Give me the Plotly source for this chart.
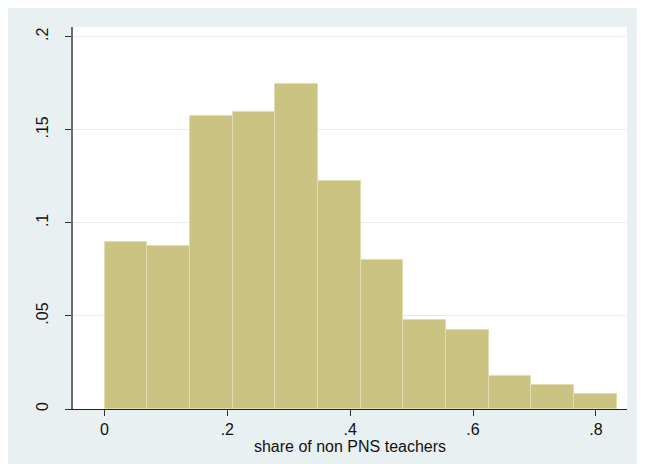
import plotly.graph_objects as go

# Histogram data (fraction per bin)
bin_start = 0.0
bin_width = 0.0695
fractions = [0.0899, 0.0876, 0.1573, 0.1598, 0.1748, 0.1225,
             0.0801, 0.0480, 0.0426, 0.0176, 0.0128, 0.0078]

x_tickvals = [0, 0.2, 0.4, 0.6, 0.8]
x_ticktext = ["0", ".2", ".4", ".6", ".8"]
y_tickvals = [0, 0.05, 0.1, 0.15, 0.2]
y_ticktext = ["0", ".05", ".1", ".15", ".2"]
x_title = "share of non PNS teachers"

centers = [bin_start + bin_width * (i + 0.5) for i in range(len(fractions))]

BG = "#e9f0f2"
BAR = "#cac381"
EDGE = "#e2ddb0"
FONT = "Liberation Sans, Arial, sans-serif"

fig = go.Figure()
fig.add_trace(go.Bar(
    x=centers, y=fractions, width=[bin_width] * len(fractions),
    marker=dict(color=BAR, line=dict(color=EDGE, width=1)),
    hoverinfo="skip",
))

W, H = 637, 456
L, T = 64.5, 19
R, B = 18.3, 54.7

fig.update_layout(
    width=W, height=H,
    margin=dict(l=L, r=R, t=T, b=B, pad=0),
    paper_bgcolor=BG,
    plot_bgcolor="white",
    showlegend=False,
    bargap=0,
    font=dict(family=FONT, size=16, color="#111"),
    xaxis=dict(
        range=[-0.0513, 0.8507],
        tickvals=x_tickvals, ticktext=x_ticktext,
        ticks="outside", ticklen=6, tickwidth=1, tickcolor="#333",
        showline=True, linecolor="#222", linewidth=1,
        showgrid=False, zeroline=False,
        tickfont=dict(size=16, color="#111"),
        title=dict(text=x_title, font=dict(size=16, color="#111"), standoff=2),
    ),
    yaxis=dict(
        range=[0, 0.2052],
        tickvals=y_tickvals, ticktext=y_ticktext,
        ticks="outside", ticklen=6, tickwidth=1, tickcolor="#333",
        showline=True, linecolor="#6a6a6a", linewidth=1.5,
        showgrid=True, gridcolor="#e6eef1", gridwidth=1,
        zeroline=False,
        tickangle=-90,
        tickfont=dict(size=16, color="#111"),
        ticklabelstandoff=11,
    ),
)

fig.write_html("out.html")
